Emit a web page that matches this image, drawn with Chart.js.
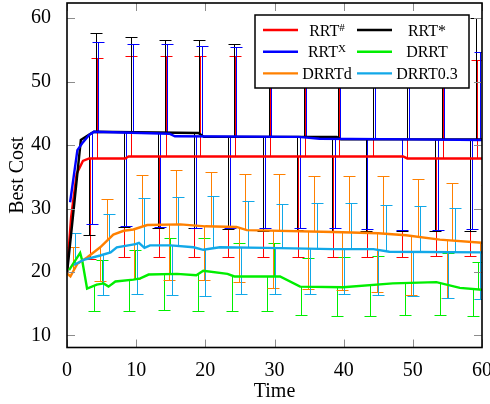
<!DOCTYPE html>
<html>
<head>
<meta charset="utf-8">
<script src="https://cdn.jsdelivr.net/npm/chart.js@4"></script>
<style>
  html, body { margin: 0; padding: 0; background: #fff; }
  canvas { display: block; }
</style>
</head>
<body>
<canvas id="cost-chart" width="490" height="404"></canvas>
<script>
// mean best cost over time, one pair of arrays per planner
const rrtSharpT = [0, 0.6, 1.4, 2.3, 3.2, 8.4, 8.9, 48.6, 49.2, 60];
const rrtSharpY = [20.0, 28.7, 35.5, 37.5, 37.9, 37.9, 38.2, 38.2, 37.9, 37.9];
const rrtStarT = [0, 0.6, 2.0, 3.0, 3.9, 19.0, 19.8, 39.0, 39.6, 60];
const rrtStarY = [19.8, 26.0, 40.8, 41.5, 42.1, 41.9, 41.3, 41.3, 40.9, 40.9];
const rrtXT = [0.45, 1.5, 2.2, 3.2, 3.9, 14.8, 15.6, 33.5, 36.5, 50, 60];
const rrtXY = [31.0, 39.2, 40.3, 41.6, 42.1, 41.8, 41.4, 41.3, 41.0, 40.9, 40.8];
const drrtT = [0.3, 1.9, 2.2, 2.9, 4.3, 5.3, 6.0, 7.0, 9.6, 10.6, 11.8, 15.9, 18.7, 19.7, 23.2, 24.2, 30.8, 33.7, 39.9, 47.1, 53.4, 56.8, 60];
const drrtY = [20.3, 23.0, 21.8, 17.4, 18.0, 18.2, 17.7, 18.5, 18.8, 19.0, 19.6, 19.7, 19.5, 20.2, 19.7, 19.3, 19.3, 17.7, 17.6, 18.2, 18.4, 17.5, 17.2];
const drrtdT = [0, 0.5, 1.5, 2.9, 4.8, 6.7, 8.2, 9.6, 11.6, 16.4, 20, 24.5, 26, 38.5, 45, 49, 53.9, 60];
const drrtdY = [19.8, 19.3, 21.3, 22.3, 23.9, 25.9, 26.5, 26.7, 27.4, 27.5, 27.2, 27.1, 26.6, 26.3, 26.1, 25.8, 25.1, 24.6];
const drrt03T = [1.0, 2.4, 4.8, 6.3, 7.2, 9.9, 10.4, 11.2, 12.0, 15.0, 18.3, 19.7, 22.1, 28.8, 38.5, 44.3, 46.6, 60];
const drrt03Y = [21.1, 21.9, 22.6, 23.1, 23.9, 24.4, 24.6, 23.8, 24.2, 24.2, 23.9, 23.5, 23.9, 23.8, 23.6, 23.6, 23.2, 23.1];

// error bars: upper ends (hi) and lower ends (lo), each at its own time
const rrtSharpHiT = [4.3, 9.3, 14.3, 19.3, 24.3, 29.3, 34.4, 39.3, 44.3, 49.2, 54.3, 59.3];
const rrtSharpHi = [53.8, 54.0, 54.0, 54.0, 54.0, 54.0, 54.0, 54.0, 53.8, 53.8, 53.6, 53.4];
const rrtSharpLoT = [3.3, 8.3, 13.3, 18.3, 23.3, 28.4, 33.4, 38.4, 43.4, 48.4, 53.3, 58.3];
const rrtSharpLo = [22.0, 22.3, 22.3, 22.3, 22.3, 22.3, 22.3, 22.3, 22.3, 22.3, 22.6, 22.6];

const rrtStarHiT = [4.2, 9.2, 14.2, 19.1, 24.1, 29.2, 34.2, 39.2, 44.2, 49.1, 54.2, 59.2];
const rrtStarHi = [57.7, 57.0, 56.6, 56.6, 56.0, 55.8, 55.6, 55.5, 55.5, 55.4, 55.4, 60.1];
const rrtStarLoT = [3.2, 8.2, 13.2, 18.3, 23.3, 28.3, 33.2, 38.3, 43.2, 48.4, 53.2, 58.2];
const rrtStarLo = [25.9, 27.1, 27.0, 26.9, 26.7, 26.4, 26.6, 26.4, 26.4, 26.4, 26.4, 26.4];

const rrtXHiT = [4.5, 9.5, 14.5, 19.5, 24.5, 29.5, 34.5, 39.5, 44.5, 49.5, 54.5, 59.7];
const rrtXHi = [56.2, 55.9, 55.9, 55.6, 55.4, 55.2, 55.2, 55.0, 55.0, 55.0, 54.8, 54.7];
const rrtXLoT = [3.6, 8.6, 13.5, 18.6, 23.6, 28.6, 33.7, 38.7, 43.4, 48.4, 53.7, 58.6];
const rrtXLo = [27.5, 27.2, 27.1, 27.0, 26.9, 26.9, 27.0, 27.0, 26.8, 26.6, 26.6, 26.8];

const drrtHiT = [5.0, 9.9, 14.9, 19.8, 24.9, 29.9, 34.9, 40.0, 45.0, 50.0, 55.1, 59.4];
const drrtHi = [21.9, 23.5, 25.3, 25.4, 24.6, 24.5, 22.2, 22.4, 22.6, 23.1, 23.0, 21.6];
const drrtLoT = [3.9, 8.9, 14.0, 18.9, 23.9, 28.9, 33.9, 39.0, 43.8, 48.8, 53.9, 58.7];
const drrtLo = [13.8, 13.9, 14.0, 13.8, 13.9, 13.9, 13.3, 13.0, 13.1, 13.3, 13.3, 13.0];

const drrtdHiT = [0.8, 5.8, 10.8, 15.7, 20.8, 25.7, 30.7, 35.7, 40.8, 45.7, 50.7, 55.7, 60.7];
const drrtdHi = [23.9, 31.5, 35.3, 36.0, 35.7, 35.4, 35.4, 35.1, 35.1, 35.1, 34.7, 34.1, 33.7];
const drrtdLoT = [4.8, 9.7, 14.8, 19.8, 24.8, 29.8, 34.8, 39.7, 44.8, 49.8, 54.9, 59.7];
const drrtdLo = [18.6, 18.9, 18.7, 18.8, 18.4, 17.5, 17.3, 17.2, 16.9, 16.4, 15.9, 15.7];

const drrt03HiT = [1.1, 6.1, 11.1, 16.1, 21.1, 26.1, 31.1, 36.1, 41.1, 46.1, 51.1, 56.1];
const drrt03Hi = [26.1, 29.2, 31.7, 31.9, 32.0, 31.2, 30.7, 30.8, 30.8, 30.6, 30.4, 30.1];
const drrt03LoT = [5.2, 10.1, 15.2, 20.0, 25.1, 30.1, 35.1, 40.1, 45.0, 50.0, 55.1, 59.7];
const drrt03Lo = [16.3, 16.6, 16.3, 16.2, 16.6, 16.6, 16.6, 16.5, 16.3, 16.2, 15.9, 15.8];

const xTicks = [0, 10, 20, 30, 40, 50, 60];
const yTicks = [10, 20, 30, 40, 50, 60];

const FONT = "'Liberation Serif', 'Times New Roman', serif";

function toPoints(ts, ys) {
    return ts.map((t, i) => ({x: t, y: ys[i]}));
}

// where an error bar leaves the mean line
function meanAt(ts, ys, t) {
    if (t <= ts[0]) return ys[0];
    for (let i = 1; i < ts.length; i++) {
        if (t <= ts[i]) {
            const f = (t - ts[i - 1]) / (ts[i] - ts[i - 1]);
            return ys[i - 1] + f * (ys[i] - ys[i - 1]);
        }
    }
    return ys[ys.length - 1];
}

function series(label, sup, color, order, ts, ys, hiT, hi, loT, lo) {
    return {
        label: label,
        sup: sup,
        data: toPoints(ts, ys),
        times: ts,
        values: ys,
        errors: {hiT, hi, loT, lo},
        borderColor: color,
        borderWidth: 2.4,
        pointRadius: 0,
        fill: false,
        tension: 0,
        order: order
    };
}

/**
 * Plugins
 */
const errorBars = {
    id: 'errorBars',
    beforeDatasetsDraw(chart) {
        const {ctx, chartArea, scales: {x, y}} = chart;
        ctx.save();
        ctx.beginPath();
        ctx.rect(chartArea.left, chartArea.top, chartArea.width, chartArea.height);
        ctx.clip();
        ctx.lineWidth = 1;
        chart.data.datasets.forEach(ds => {
            const e = ds.errors;
            ctx.strokeStyle = ds.borderColor;
            const bar = (t, v) => {
                const px = Math.round(x.getPixelForValue(t)) + 0.5;
                const from = y.getPixelForValue(meanAt(ds.times, ds.values, t));
                const to = Math.round(y.getPixelForValue(v)) + 0.5;
                ctx.beginPath();
                ctx.moveTo(px, from);
                ctx.lineTo(px, to);
                ctx.moveTo(px - 6, to);
                ctx.lineTo(px + 6, to);
                ctx.stroke();
            };
            e.hiT.forEach((t, i) => bar(t, e.hi[i]));
            e.loT.forEach((t, i) => bar(t, e.lo[i]));
        });
        ctx.restore();
    }
};

const frameAndTicks = {
    id: 'frameAndTicks',
    afterDatasetsDraw(chart) {
        const {ctx, chartArea: a, scales: {x, y}} = chart;
        const len = 8;
        ctx.save();
        ctx.strokeStyle = '#8c8c8c';
        ctx.lineWidth = 1;
        ctx.beginPath();
        x.ticks.forEach(t => {
            const px = Math.round(x.getPixelForValue(t.value)) + 0.5;
            ctx.moveTo(px, a.bottom); ctx.lineTo(px, a.bottom - len);
            ctx.moveTo(px, a.top); ctx.lineTo(px, a.top + len);
        });
        y.ticks.forEach(t => {
            const py = Math.round(y.getPixelForValue(t.value)) + 0.5;
            ctx.moveTo(a.left, py); ctx.lineTo(a.left + len, py);
            ctx.moveTo(a.right, py); ctx.lineTo(a.right - len, py);
        });
        ctx.stroke();
        ctx.strokeStyle = '#000';
        ctx.lineWidth = 1.6;
        ctx.strokeRect(a.left, a.top, a.width, a.height);
        ctx.restore();
    }
};

const legendBox = {
    id: 'legendBox',
    afterDraw(chart) {
        const {ctx, chartArea} = chart;
        const w = 214, h = 73;
        const left = chartArea.right - 13 - w;
        const top = chartArea.top + 12;
        ctx.save();
        ctx.fillStyle = '#fff';
        ctx.fillRect(left, top, w, h);
        ctx.strokeStyle = '#000';
        ctx.lineWidth = 1.5;
        ctx.strokeRect(left, top, w, h);
        chart.data.datasets.forEach((ds, i) => {
            const col = i % 2, row = Math.floor(i / 2);
            const cy = top + 15 + row * 21.7;
            const lx = left + (col ? 102 : 8);
            ctx.strokeStyle = ds.borderColor;
            ctx.lineWidth = 2.4;
            ctx.beginPath();
            ctx.moveTo(lx, cy);
            ctx.lineTo(lx + 35, cy);
            ctx.stroke();

            const cx = left + (col ? 172 : 72);
            ctx.font = `16px ${FONT}`;
            const bw = ctx.measureText(ds.label).width;
            ctx.font = `11px ${FONT}`;
            const sw = ds.sup ? ctx.measureText(ds.sup).width : 0;
            const x0 = cx - (bw + sw) / 2;
            ctx.fillStyle = '#000';
            ctx.textAlign = 'left';
            ctx.textBaseline = 'alphabetic';
            ctx.font = `16px ${FONT}`;
            ctx.fillText(ds.label, x0, cy + 5.5);
            if (ds.sup) {
                ctx.font = `11px ${FONT}`;
                ctx.fillText(ds.sup, x0 + bw, cy + 0.5);
            }
        });
        ctx.restore();
    }
};

/**
 * Chart
 */
const costChart = new Chart(document.getElementById('cost-chart'), {
    type: 'line',
    data: {
        datasets: [
            series('RRT', '#', '#ff0000', 6, rrtSharpT, rrtSharpY, rrtSharpHiT, rrtSharpHi, rrtSharpLoT, rrtSharpLo),
            series('RRT*', '', '#000000', 5, rrtStarT, rrtStarY, rrtStarHiT, rrtStarHi, rrtStarLoT, rrtStarLo),
            series('RRT', 'X', '#0000ff', 4, rrtXT, rrtXY, rrtXHiT, rrtXHi, rrtXLoT, rrtXLo),
            series('DRRT', '', '#00ee00', 3, drrtT, drrtY, drrtHiT, drrtHi, drrtLoT, drrtLo),
            series('DRRTd', '', '#ff8000', 2, drrtdT, drrtdY, drrtdHiT, drrtdHi, drrtdLoT, drrtdLo),
            series('DRRT0.3', '', '#12a8e8', 1, drrt03T, drrt03Y, drrt03HiT, drrt03Hi, drrt03LoT, drrt03Lo)
        ]
    },
    options: {
        responsive: false,
        animation: false,
        events: [],
        layout: {
            padding: {top: 3, right: 8, left: 0, bottom: 0}
        },
        plugins: {
            legend: {display: false},
            tooltip: {enabled: false}
        },
        scales: {
            x: {
                type: 'linear',
                min: 0,
                max: 60,
                grid: {display: false},
                border: {display: false},
                afterBuildTicks: scale => {
                    scale.ticks = xTicks.map(v => ({value: v}));
                },
                afterFit: scale => {
                    scale.height = 56.5;
                    scale.paddingLeft = 0;
                    scale.paddingRight = 0;
                },
                ticks: {
                    color: '#000',
                    padding: 3,
                    maxRotation: 0,
                    font: {family: FONT, size: 20}
                },
                title: {
                    display: true,
                    text: 'Time',
                    color: '#000',
                    padding: {top: 0, bottom: 0},
                    font: {family: FONT, size: 20}
                }
            },
            y: {
                type: 'linear',
                min: 8.1,
                max: 62.4,
                grid: {display: false},
                border: {display: false},
                afterBuildTicks: scale => {
                    scale.ticks = yTicks.map(v => ({value: v}));
                },
                afterFit: scale => {
                    scale.width = 67;
                    scale.paddingTop = 0;
                    scale.paddingBottom = 0;
                },
                ticks: {
                    color: '#000',
                    padding: 8,
                    font: {family: FONT, size: 20}
                },
                title: {
                    display: true,
                    text: 'Best Cost',
                    color: '#000',
                    padding: {top: 6, bottom: 0},
                    font: {family: FONT, size: 20}
                }
            }
        }
    },
    plugins: [errorBars, frameAndTicks, legendBox]
});
</script>
</body>
</html>
